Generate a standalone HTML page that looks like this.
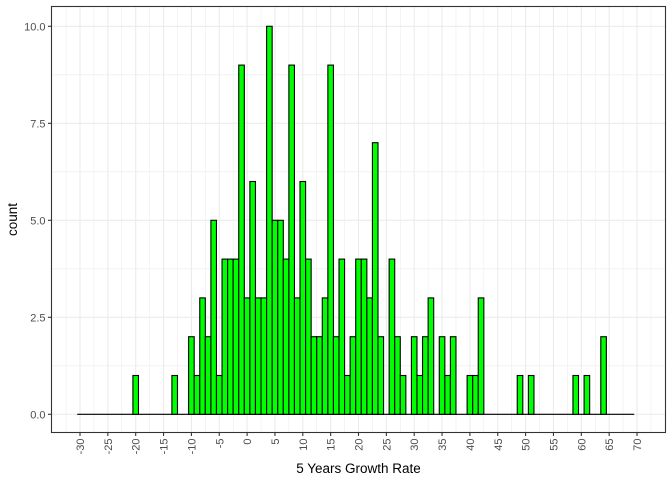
<!DOCTYPE html>
<html><head><meta charset="utf-8"><style>
html,body{margin:0;padding:0;background:#fff;}
svg{display:block;font-family:"Liberation Sans",sans-serif;}
</style></head><body>
<svg id="chart" width="672" height="480"></svg>
<script>
const binCenters = [-20,-13,-10,-9,-8,-7,-6,-5,-4,-3,-2,-1,0,1,2,3,4,5,6,7,8,9,10,11,12,13,14,15,16,17,18,19,20,21,22,23,24,26,27,28,30,31,32,33,35,36,37,40,41,42,49,51,59,61,64];
const counts =     [1,1,2,1,3,2,5,1,4,4,4,9,3,6,3,3,10,5,5,4,9,3,6,4,2,2,3,9,2,4,1,2,4,4,3,7,2,4,2,1,2,1,2,3,2,1,2,1,1,3,1,1,1,1,2];
const xTicks = [-30,-25,-20,-15,-10,-5,0,5,10,15,20,25,30,35,40,45,50,55,60,65,70];
const yTicks = [0,2.5,5,7.5,10];
const yTickLabels = ["0.0","2.5","5.0","7.5","10.0"];
const binMin = -30, binMax = 69, binWidth = 1;

const NS = "http://www.w3.org/2000/svg";
const svg = document.getElementById("chart");
const P = {l:51.5, r:665.5, t:6.5, b:432.5};
const x = v => 80 + (v + 30) * 5.57;
const y = v => 414.3 - v * 38.8;
function mk(tag, attrs, parent){const e=document.createElementNS(NS,tag);for(const k in attrs)e.setAttribute(k,attrs[k]);(parent||svg).appendChild(e);return e;}

const grid = mk("g",{});


// minor grid
for (let v=-32.5; v<=72.5; v+=5){ const px=x(v); if(px>P.l&&px<P.r) mk("line",{x1:px,x2:px,y1:P.t,y2:P.b,stroke:"#ebebeb","stroke-width":0.55},grid); }
for (let v=-1.25; v<=11.25; v+=2.5){ const py=y(v); if(py>P.t&&py<P.b) mk("line",{x1:P.l,x2:P.r,y1:py,y2:py,stroke:"#ebebeb","stroke-width":0.55},grid); }
xTicks.forEach(v=>mk("line",{x1:x(v),x2:x(v),y1:P.t,y2:P.b,stroke:"#ebebeb","stroke-width":1.1},grid));
yTicks.forEach(v=>mk("line",{x1:P.l,x2:P.r,y1:y(v),y2:y(v),stroke:"#ebebeb","stroke-width":1.1},grid));

// baseline (zero-count bins)
const base = mk("line",{x1:x(binMin-binWidth/2),x2:x(binMax+binWidth/2),y1:y(0),y2:y(0),stroke:"#000","stroke-width":1.1});



const bars = mk("g",{});


binCenters.forEach((c,i)=>{
  const x0=x(c-binWidth/2), x1=x(c+binWidth/2);
  const r=mk("rect",{x:x0,y:y(counts[i]),width:x1-x0,height:y(0)-y(counts[i]),fill:"#00ff00",stroke:"#000","stroke-width":1.1},bars);
  
  
});

const frame = mk("rect",{x:P.l,y:P.t,width:P.r-P.l,height:P.b-P.t,fill:"none",stroke:"#333","stroke-width":1.1});



const xa = mk("g",{});


xTicks.forEach(v=>{
  mk("line",{x1:x(v),x2:x(v),y1:P.b,y2:P.b+3.5,stroke:"#333","stroke-width":1.1},xa);
  const t=mk("text",{x:0,y:0,transform:`translate(${x(v)+4},${P.b+6}) rotate(-90)`,"text-anchor":"end","font-size":"11","fill":"#4d4d4d"},xa);
  t.textContent=v;
  
  
});
const ya = mk("g",{});


yTicks.forEach((v,i)=>{
  mk("line",{x1:P.l-3.5,x2:P.l,y1:y(v),y2:y(v),stroke:"#333","stroke-width":1.1},ya);
  const t=mk("text",{x:P.l-6,y:y(v)+4,"text-anchor":"end","font-size":"11","fill":"#4d4d4d"},ya);
  t.textContent=yTickLabels[i];
  
  
});
const xt=mk("text",{x:(P.l+P.r)/2,y:473,"text-anchor":"middle","font-size":"13.5","fill":"#000"});
xt.textContent="5 Years Growth Rate";


const yt=mk("text",{x:0,y:0,transform:`translate(17,${(P.t+P.b)/2}) rotate(-90)`,"text-anchor":"middle","font-size":"13.5","fill":"#000"});
yt.textContent="count";


</script>
</body></html>
